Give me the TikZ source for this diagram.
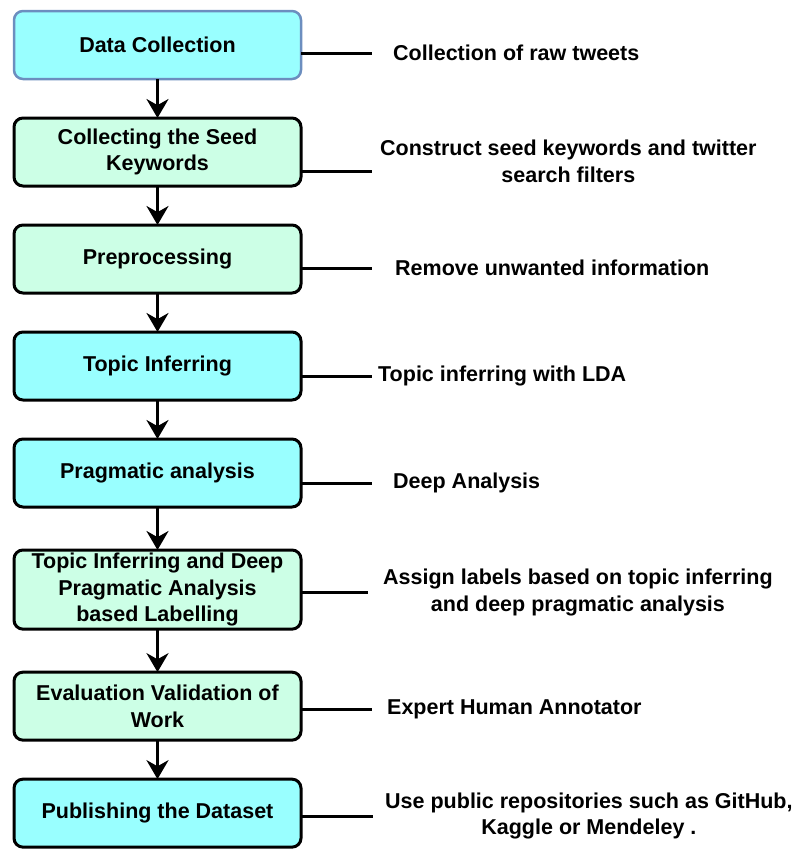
\documentclass[tikz,border=0pt]{standalone}
\usepackage{fontspec}
\setmainfont{Liberation Sans}
\usepackage{xcolor}
\usepackage{tikz}
\usetikzlibrary{positioning,arrows.meta}
\definecolor{boxcyan}{HTML}{99FFFF}
\definecolor{boxmint}{HTML}{CCFFE6}
\definecolor{boxblue}{HTML}{6C8EBF}
\tikzset{>={Stealth[length=19pt,width=22pt]}}

\begin{document}
\begin{tikzpicture}[x=1pt,y=-1pt,
roundednode/.style={rectangle, rounded corners=9pt, align=center, draw=black, line width=3pt, outer sep=0pt, minimum width=287pt, minimum height=68pt, inner sep=3pt, font=\fontsize{21.5}{26.5}\selectfont\bfseries},
cyannode/.style={roundednode, fill=boxcyan},
mintnode/.style={roundednode, fill=boxmint},
notenode/.style={align=center, inner sep=0pt, font=\fontsize{21.5}{26.5}\selectfont\bfseries},
link/.style={line width=3pt},
node distance=39pt,
]
\useasboundingbox (0,0) rectangle (793,849);
%Nodes
\node[cyannode, draw=boxblue, line width=2.5pt](Data Collection) at (157.5,45) {Data Collection};
\node[mintnode](Seed Keywords)[below=of Data Collection]{Collecting the Seed\\ Keywords};
\node[mintnode](Preprocessing)[below=of Seed Keywords]{Preprocessing};
\node[cyannode](Topic Inferring)[below=of Preprocessing]{Topic Inferring};
\node[cyannode](Pragmatic)[below=of Topic Inferring]{Pragmatic analysis};
\node[mintnode, minimum height=79pt](Labelling)[below=43pt of Pragmatic]{Topic Inferring and Deep\\ Pragmatic Analysis\\ based Labelling};
\node[mintnode](Validation)[below=43pt of Labelling]{Evaluation Validation of\\ Work};
\node[cyannode](Publishing)[below=of Validation]{Publishing the Dataset};

%Line ends
\coordinate[right=71pt of Data Collection.east, yshift=-8pt](e1);
\coordinate[right=71pt of Seed Keywords.east, yshift=-19pt](e2);
\coordinate[right=71pt of Preprocessing.east, yshift=-9pt](e3);
\coordinate[right=71pt of Topic Inferring.east, yshift=-10pt](e4);
\coordinate[right=71pt of Pragmatic.east, yshift=-10pt](e5);
\coordinate[right=67pt of Labelling.east, yshift=-3pt](e6);
\coordinate[right=71pt of Validation.east, yshift=-3pt](e7);
\coordinate[right=72pt of Publishing.east, yshift=-3pt](e8);

%Notes
\node[notenode](Raw Tweets)[right=21pt of e1]{Collection of raw tweets};
\node[notenode](Search Filters)[right=8pt of e2, yshift=9.5pt]{Construct seed keywords and twitter\\ search filters};
\node[notenode](Unwanted)[right=23pt of e3]{Remove unwanted information};
\node[notenode](LDA)[right=6pt of e4]{Topic inferring with LDA};
\node[notenode](Deep Analysis)[right=21pt of e5]{Deep Analysis};
\node[notenode](Assign Labels)[right=15pt of e6]{Assign labels based on topic inferring\\ and deep pragmatic analysis};
\node[notenode](Annotator)[right=15pt of e7]{Expert Human Annotator};
\node[notenode](Repositories)[right=12pt of e8]{Use public repositories such as GitHub,\\ Kaggle or Mendeley .};

%Lines
\draw[link, ->] (Data Collection) -- (Seed Keywords);
\draw[link, ->] (Seed Keywords) -- (Preprocessing);
\draw[link, ->] (Preprocessing) -- (Topic Inferring);
\draw[link, ->] (Topic Inferring) -- (Pragmatic);
\draw[link, ->] (Pragmatic) -- (Labelling);
\draw[link, ->] (Labelling) -- (Validation);
\draw[link, ->] (Validation) -- (Publishing);

\draw[link] (Data Collection.east |- e1) -- (e1);
\draw[link] (Seed Keywords.east |- e2) -- (e2);
\draw[link] (Preprocessing.east |- e3) -- (e3);
\draw[link] (Topic Inferring.east |- e4) -- (e4);
\draw[link] (Pragmatic.east |- e5) -- (e5);
\draw[link] (Labelling.east |- e6) -- (e6);
\draw[link] (Validation.east |- e7) -- (e7);
\draw[link] (Publishing.east |- e8) -- (e8);

\end{tikzpicture}
\end{document}
